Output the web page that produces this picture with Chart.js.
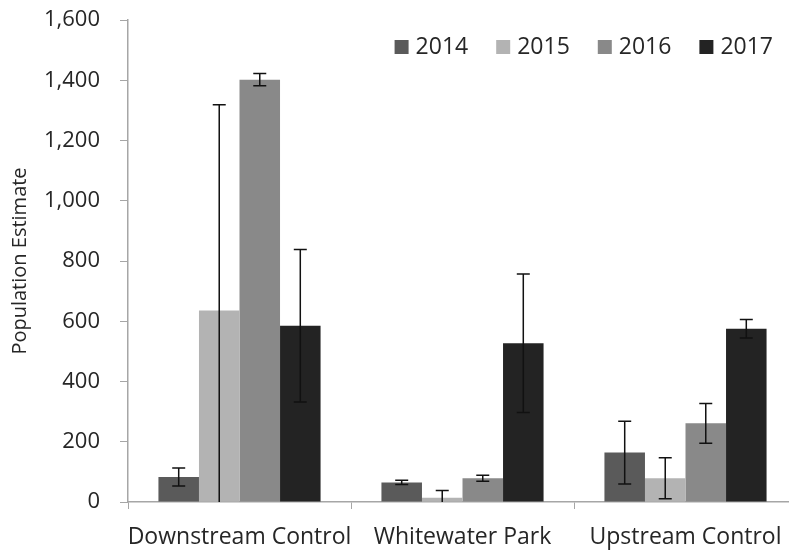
<!DOCTYPE html>
<html>
<head>
<meta charset="utf-8">
<script src="https://cdn.jsdelivr.net/npm/chart.js@4"></script>
<style>
  html, body { margin: 0; padding: 0; background: #fff; overflow: hidden; }
  #wrap { width: 800px; height: 552px; }
</style>
</head>
<body>
<div id="wrap"><canvas id="popChart" width="800" height="552"></canvas></div>
<script>
// sites along the x axis
const sites = ['Downstream Control', 'Whitewater Park', 'Upstream Control'];
const years = ['2014', '2015', '2016', '2017'];

// population estimates per year (one value per site)
const est2014 = [83, 65, 164];
const est2015 = [636, 14, 79];
const est2016 = [1402, 79, 261];
const est2017 = [585, 527, 575];

// +/- error for each estimate
const err2014 = [30, 7, 104];
const err2015 = [683, 24, 68];
const err2016 = [20, 10, 66];
const err2017 = [253, 230, 31];

const yTicks = [0, 200, 400, 600, 800, 1000, 1200, 1400, 1600];

const seriesValues = [est2014, est2015, est2016, est2017];
const seriesErrors = [err2014, err2015, err2016, err2017];
const seriesColors = ['#5a5a5a', '#b3b3b3', '#898989', '#232323'];

const FONT = "'Open Sans', sans-serif";
const textColor = '#262626';
const axisColor = '#a6a6a6';

// draws the error bars from the y scale
const errorBars = {
    id: 'errorBars',
    afterDatasetsDraw(chart) {
        const ctx = chart.ctx;
        const y = chart.scales.y;
        ctx.save();
        ctx.strokeStyle = '#111';
        ctx.lineWidth = 1.5;
        chart.data.datasets.forEach((ds, i) => {
            const meta = chart.getDatasetMeta(i);
            meta.data.forEach((bar, j) => {
                const v = ds.data[j];
                const e = seriesErrors[i][j];
                const hi = v + e;
                let lo = v - e;
                const clipped = lo < 0;
                if (clipped) lo = 0;
                const x = bar.x;
                const yHi = y.getPixelForValue(hi);
                const yLo = y.getPixelForValue(lo);
                const cap = 6.5;
                ctx.beginPath();
                ctx.moveTo(x, yHi);
                ctx.lineTo(x, yLo);
                ctx.moveTo(x - cap, yHi);
                ctx.lineTo(x + cap, yHi);
                if (!clipped) {
                    ctx.moveTo(x - cap, yLo);
                    ctx.lineTo(x + cap, yLo);
                }
                ctx.stroke();
            });
        });
        ctx.restore();
    }
};

// legend in one row, inside the plot, top right
const insideLegend = {
    id: 'insideLegend',
    afterDraw(chart) {
        const ctx = chart.ctx;
        const area = chart.chartArea;
        ctx.save();
        ctx.font = "23px " + FONT;
        ctx.textBaseline = 'middle';
        const box = 14, gap = 7, spacing = 28;
        const items = chart.data.datasets.map(ds => ({
            text: ds.label, color: ds.backgroundColor, w: ctx.measureText(ds.label).width
        }));
        let total = 0;
        items.forEach((it, k) => { total += box + gap + it.w + (k ? spacing : 0); });
        let x = area.right - 24 - total;
        const yMid = area.top + 27;
        items.forEach(it => {
            ctx.fillStyle = it.color;
            ctx.fillRect(x, yMid - box / 2, box, box);
            ctx.fillStyle = textColor;
            ctx.fillText(it.text, x + box + gap, yMid);
            x += box + gap + it.w + spacing;
        });
        ctx.restore();
    }
};

const ctx = document.getElementById('popChart').getContext('2d');
new Chart(ctx, {
    type: 'bar',
    data: {
        labels: sites,
        datasets: years.map((yr, i) => ({
            label: yr,
            data: seriesValues[i],
            backgroundColor: seriesColors[i],
            borderWidth: 0,
            categoryPercentage: 0.727,
            barPercentage: 1.0
        }))
    },
    options: {
        responsive: false,
        animation: false,
        layout: { padding: { top: 20, right: 3, left: 0, bottom: 0 } },
        plugins: {
            legend: { display: false },
            tooltip: { enabled: false }
        },
        scales: {
            x: {
                afterFit: (s) => { s.height = 50; s.paddingLeft = 0; s.paddingRight = 0; },
                grid: {
                    display: true,
                    drawOnChartArea: false,
                    offset: true,
                    tickLength: 7,
                    color: axisColor
                },
                border: { color: axisColor, width: 1.5 },
                ticks: {
                    color: textColor,
                    padding: 15,
                    maxRotation: 0,
                    autoSkip: false,
                    font: { family: FONT, size: 23 }
                }
            },
            y: {
                min: 0,
                max: 1600,
                afterFit: (s) => { s.width = 128; s.paddingTop = 0; s.paddingBottom = 0; },
                afterBuildTicks: (s) => { s.ticks = yTicks.map(v => ({ value: v })); },
                grid: {
                    display: true,
                    drawOnChartArea: false,
                    tickLength: 8,
                    color: axisColor
                },
                border: { color: axisColor, width: 1.5 },
                ticks: {
                    color: textColor,
                    padding: 20,
                    font: { family: FONT, size: 22 },
                    callback: (v) => v.toLocaleString('en-US')
                },
                title: {
                    display: true,
                    text: 'Population Estimate',
                    color: textColor,
                    padding: { top: 8, bottom: 4 },
                    font: { family: FONT, size: 20 }
                }
            }
        }
    },
    plugins: [errorBars, insideLegend]
});
</script>
</body>
</html>
